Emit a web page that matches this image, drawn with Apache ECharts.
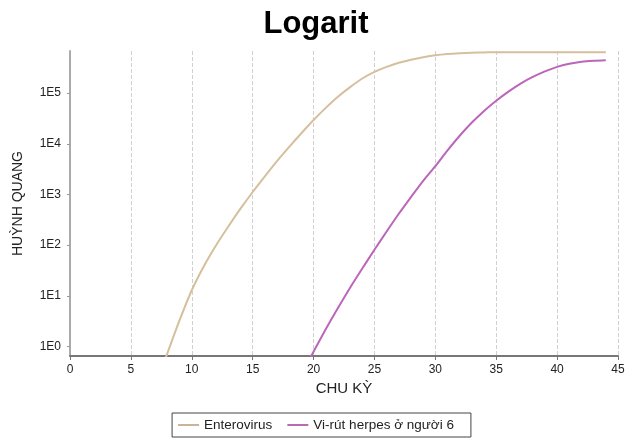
<!DOCTYPE html>
<html>
<head>
<meta charset="utf-8">
<script src="https://cdn.jsdelivr.net/npm/echarts@6/dist/echarts.min.js"></script>
<style>html,body{margin:0;padding:0;background:#fff}#c{width:632px;height:443px}</style>
</head>
<body>
<div id="c"></div>
<script>
var titleText = 'Logarit';
var xName = 'CHU KỲ';
var yName = 'HUỲNH QUANG';
var seriesNames = ['Enterovirus', 'Vi-rút herpes ở người 6'];

var enteroCycles = [7,8,9,10,11,12,13,14,15,16,17,18,19,20,21,22,23,24,25,26,27,28,29,30,31,32,33,34,35,36,37,38,39,40,41,42,43,44];
var enteroValues = [0.16,0.74,3.31,12.9,38.9,100,234,525,1122,2291,4571,8710,16218,29512,51286,85114,131826,194984,263027,331131,398107,457088,512861,562341,595662,616595,630957,638263,645654,645654,645654,645654,645654,645654,645654,645654,645654,645654];

var herpesCycles = [19,20,21,22,23,24,25,26,27,28,29,30,31,32,33,34,35,36,37,38,39,40,41,42,43,44];
var herpesValues = [0.28,0.79,2.19,5.75,14.5,34.7,81.3,186,417,891,1862,3631,7413,14454,26303,44668,70795,107152,154882,208930,269153,331131,380189,416869,436516,446684];

function pairs(xs, ys){ return xs.map(function(x,i){ return [x, ys[i]]; }); }

var chart = echarts.init(document.getElementById('c'));
chart.setOption({
  animation: false,
  textStyle: { fontFamily: 'Liberation Sans, Arial, sans-serif' },
  title: {
    text: titleText, left: 'center', top: 4,
    textStyle: { fontSize: 31, fontWeight: 'bold', color: '#000', fontFamily: 'Liberation Sans, Arial, sans-serif' }
  },
  legend: {
    bottom: 6, left: 'center',
    data: seriesNames,
    icon: 'rect', itemWidth: 21, itemHeight: 2, itemGap: 15,
    borderColor: '#444', borderWidth: 1, padding: [5, 17, 5, 6],
    textStyle: { fontSize: 13.5, color: '#222' }
  },
  grid: { left: 70, right: 14, top: 51, bottom: 87 },
  xAxis: {
    type: 'value', min: 0, max: 45, interval: 5,
    name: xName, nameLocation: 'middle', nameGap: 24,
    nameTextStyle: { fontSize: 15, color: '#222' },
    axisLine: { lineStyle: { color: '#777', width: 2 } },
    axisTick: { show: true, length: 4, lineStyle: { color: '#777' } },
    axisLabel: { fontSize: 12, color: '#222', margin: 8 },
    splitLine: { show: true, lineStyle: { color: '#d0d0d0', type: 'dashed', width: 1 } }
  },
  yAxis: {
    type: 'log', logBase: 10, min: 0.65, max: 680000,
    name: yName, nameLocation: 'middle', nameGap: 45, nameRotate: 90,
    nameTextStyle: { fontSize: 14, color: '#222' },
    axisLine: { show: true, lineStyle: { color: '#aaa', width: 2 } },
    axisTick: { show: true, length: 3, lineStyle: { color: '#999' } },
    axisLabel: {
      fontSize: 12, color: '#222', margin: 9, padding: [5, 0, 0, 0],
      showMinLabel: false, showMaxLabel: false,
      formatter: function(v){ return '1E' + Math.round(Math.log10(v)); }
    },
    splitLine: { show: false }
  },
  series: [
    {
      name: seriesNames[0], type: 'line', smooth: 0.25, showSymbol: false, clip: true,
      data: pairs(enteroCycles, enteroValues),
      lineStyle: { color: '#d6bf9c', width: 2 }, itemStyle: { color: '#c9b49a' }
    },
    {
      name: seriesNames[1], type: 'line', smooth: 0.25, showSymbol: false, clip: true,
      data: pairs(herpesCycles, herpesValues),
      lineStyle: { color: '#bb66bb', width: 2 }, itemStyle: { color: '#b86ab8' }
    }
  ]
});
</script>
</body>
</html>
